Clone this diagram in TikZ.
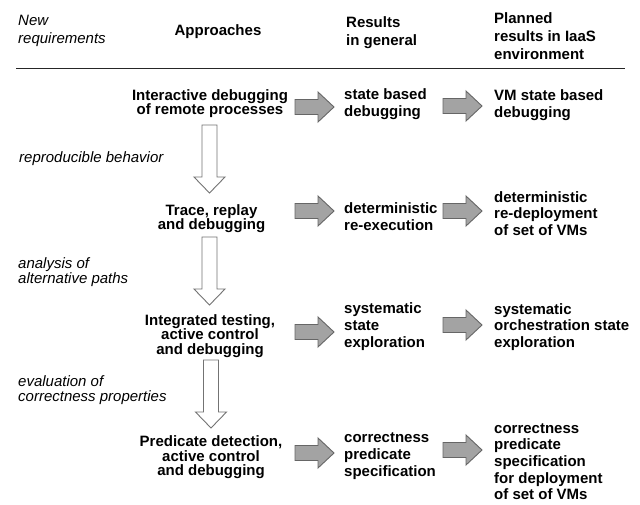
\documentclass[tikz,border=0pt]{standalone}
\usepackage{fontspec}
\setmainfont{Liberation Sans}
\begin{document}
% fixed baseline distances inside the multi-line labels
\setlength{\lineskiplimit}{-20pt}\setlength{\lineskip}{0pt}%
\begin{tikzpicture}[x=1pt,y=-1pt,
  % multi-line nodes sit on the baseline of their last line
  txt/.style={inner sep=0pt, font=\bfseries\fontsize{15}{#1}\selectfont},
  lefttxt/.style={txt=14.5, anchor=base, align=center},
  midtxt/.style={txt=17, anchor=base west, align=left},
  righttxt/.style={txt=16.7, anchor=base west, align=left},
  head/.style={txt=18, anchor=base west, align=left},
  note/.style={inner sep=0pt, anchor=base west, align=left,
    font=\itshape\fontsize{15}{#1}\selectfont},
  note/.default=15.5,
  flowfill/.style={fill=white, draw=black!55, line width=0.9pt, line join=miter},
  resfill/.style={fill=black!36, draw=black!60, line width=0.9pt, line join=miter},
  pics/resultarrow/.style={code={
    \path[resfill] (0,-7.5) -- (23,-7.5) -- (23,-15) -- (39,0) -- (23,15)
      -- (23,7.5) -- (0,7.5) -- cycle;}},
  pics/flowarrow/.style={code={
    \path[flowfill] (-7.5,0) -- (7.5,0) -- (7.5,52) -- (15.5,52) -- (0,68)
      -- (-15.5,52) -- (-7.5,52) -- (-7.5,0) -- cycle;}}
]
\useasboundingbox[fill=white] (0,0) rectangle (640,504);

% column headings
\node[note=18] (hreq) at (18,43) {New\\requirements};
\node[txt=18, anchor=base] (happ) at (218,35) {Approaches};
\node[head] (hgen) at (346,45) {Results\\in general};
\node[head] (hiaas) at (494,59) {Planned\\results in IaaS\\environment};
\coordinate (ruleL) at (16,68);
\coordinate (ruleR) at (625,68);
\draw[line width=0.9pt, black!85] (ruleL) -- (ruleR);

% requirement notes
\node[note] (n1) at (19,162) {reproducible behavior};
\node[note] (n2) at (18,283.5) {analysis of\\alternative paths};
\node[note] (n3) at (18,401.5) {evaluation of\\correctness properties};

% approaches
\node[lefttxt] (a1) at (210,114.8) {Interactive debugging\\of remote processes};
\node[lefttxt] (a2) at (211.5,229.6) {Trace, replay\\and debugging};
\node[lefttxt] (a3) at (210,354) {Integrated testing,\\active control\\and debugging};
\node[lefttxt] (a4) at (211,475.5) {Predicate detection,\\active control\\and debugging};

% general results
\node[midtxt] (g1) at (344,116) {state based\\debugging};
\node[midtxt] (g2) at (344,230.5) {deterministic\\re-execution};
\node[midtxt] (g3) at (344,347) {systematic\\state\\exploration};
\node[midtxt] (g4) at (344,476) {correctness\\predicate\\specification};

% planned IaaS results
\node[righttxt] (p1) at (494,117) {VM state based\\debugging};
\node[righttxt] (p2) at (494,235.4) {deterministic\\re-deployment\\of set of VMs};
\node[righttxt] (p3) at (494,347.4) {systematic\\orchestration state\\exploration};
\node[righttxt] (p4) at (494,499.8) {correctness\\predicate\\specification\\for deployment\\of set of VMs};

% downward flow between approaches
\pic at (209.5,125) {flowarrow};
\pic at (209.5,237) {flowarrow};
\pic at (211,360) {flowarrow};

% approach -> general result
\pic at (295,107) {resultarrow};
\pic at (295,211) {resultarrow};
\pic at (295,332) {resultarrow};
\pic at (295,453) {resultarrow};

% general result -> IaaS result
\pic at (443,106) {resultarrow};
\pic at (443,211) {resultarrow};
\pic at (443,325) {resultarrow};
\pic at (443,450) {resultarrow};
\end{tikzpicture}
\end{document}
